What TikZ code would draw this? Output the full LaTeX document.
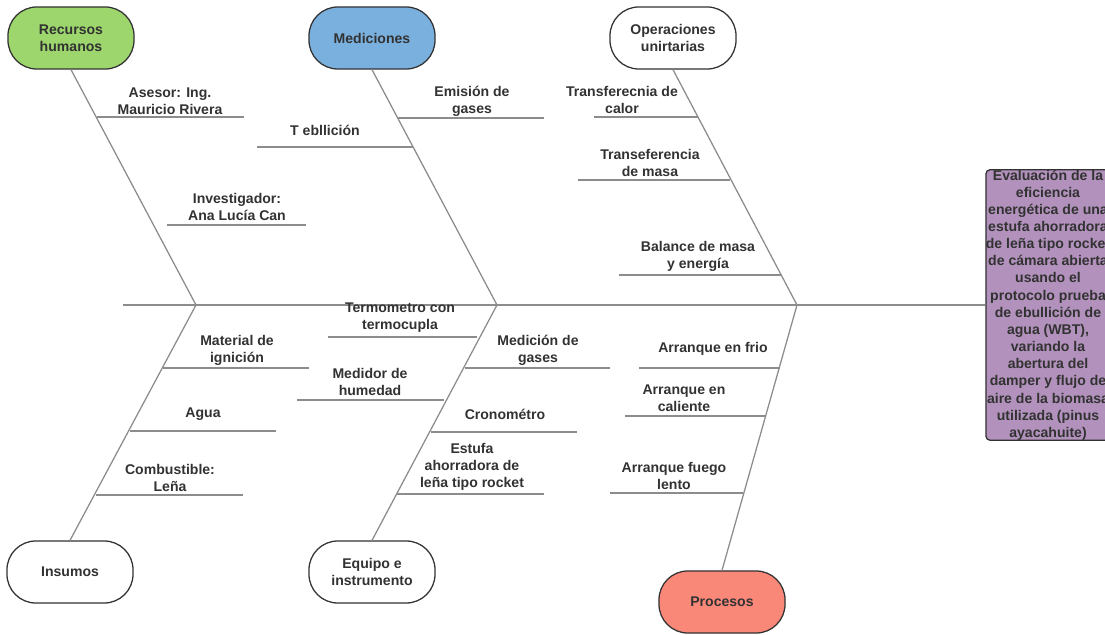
\documentclass[tikz,border=0pt]{standalone}
\usepackage{fontspec}
\setmainfont{Liberation Sans}

\definecolor{rhgreen}{RGB}{156,214,108}
\definecolor{medblue}{RGB}{122,176,222}
\definecolor{procred}{RGB}{249,136,121}
\definecolor{efpurple}{RGB}{178,146,188}
\definecolor{bonegray}{RGB}{140,140,140}
\definecolor{txtgray}{RGB}{50,50,50}

\tikzset{
    cause/.style={draw=txtgray, line width=0.9pt, rounded corners=0.72cm,
        minimum width=3.15cm, minimum height=1.55cm, align=center,
        font=\fontsize{10}{12}\selectfont\bfseries, text=txtgray},
    bone/.style={draw=bonegray, line width=0.9pt},
    lbl/.style={align=center, font=\fontsize{10}{12}\selectfont\bfseries,
        text=txtgray, inner sep=0pt}
}

\begin{document}
\begin{tikzpicture}[x=0.025cm, y=-0.025cm]
    \useasboundingbox (0,0) rectangle (1105,635);

    % categories
    \node[cause, fill=rhgreen] (rh) at (71,38) {Recursos\\humanos};
    \node[cause, fill=medblue] (med) at (372,38) {Mediciones};
    \node[cause, fill=white] (ope) at (673,38) {Operaciones\\unirtarias};
    \node[cause, fill=white] (ins) at (70,572) {Insumos};
    \node[cause, fill=white] (equ) at (372,572) {Equipo e\\instrumento};
    \node[cause, fill=procred] (pro) at (722,602) {Procesos};

    % effect
    \node[draw=txtgray, line width=0.9pt, rounded corners=3pt, fill=efpurple,
        minimum width=3.1cm, minimum height=6.7cm, align=center, inner sep=0pt,
        font=\fontsize{10}{12.2}\selectfont\bfseries, text=txtgray] (eff) at (1048,305)
        {Evaluación de la\\eficiencia\\energética de una\\estufa ahorradora\\de leña tipo rocket\\de cámara abierta\\usando el\\protocolo prueba\\de ebullición de\\agua (WBT),\\variando la\\abertura del\\damper y flujo de\\aire de la biomasa\\utilizada (pinus\\ayacahuite)};

    % spine
    \coordinate (tail) at (123,305);
    \coordinate (j1) at (196,305);
    \coordinate (j2) at (497,305);
    \coordinate (j3) at (797,305);
    \draw[bone] (tail) -- (eff.west);

    % bones
    \draw[bone] (rh.south) -- (j1) -- (ins.north);
    \draw[bone] (med.south) -- (j2) -- (equ.north);
    \draw[bone] (ope.south) -- (j3) -- (pro.north);

    % Recursos humanos
    \node[lbl] (asesor) at (170,101) {Asesor: Ing.\\Mauricio Rivera};
    \draw[bone] (97,117) -- (244,117);
    \node[lbl] (invest) at (237,207) {Investigador:\\Ana Lucía Can};
    \draw[bone] (167,225) -- (306,225);

    % Mediciones
    \node[lbl] (emision) at (472,101) {Emisión de\\gases};
    \draw[bone] (398,118) -- (544,118);
    \node[lbl] (tebul) at (325,130) {T ebllición};
    \draw[bone] (257,147) -- (413,147);

    % Operaciones unirtarias
    \node[lbl] (calor) at (622,100) {Transferecnia de\\calor};
    \draw[bone] (594,117) -- (698,117);
    \node[lbl] (masa) at (650,163) {Transeferencia\\de masa};
    \draw[bone] (578,180) -- (730,180);
    \node[lbl] (balance) at (698,256) {Balance de masa\\y energía};
    \draw[bone] (619,275) -- (781,275);

    % Insumos
    \node[lbl] (ignic) at (237,350) {Material de\\ignición};
    \draw[bone] (163,368) -- (309,368);
    \node[lbl] (agua) at (203,414) {Agua};
    \draw[bone] (130,431) -- (276,431);
    \node[lbl] (combus) at (170,478) {Combustible:\\Leña};
    \draw[bone] (96,495) -- (243,495);

    % Equipo e instrumento
    \node[lbl] (termo) at (400,318) {Termometro con\\termocupla};
    \draw[bone] (328,337) -- (477,337);
    \node[lbl] (medgas) at (538,350) {Medición de\\gases};
    \draw[bone] (465,368) -- (610,368);
    \node[lbl] (humed) at (370,382) {Medidor de\\humedad};
    \draw[bone] (297,400) -- (444,400);
    \node[lbl] (crono) at (505,414) {Cronométro};
    \draw[bone] (431,432) -- (577,432);
    \node[lbl] (estufa) at (472,467) {Estufa\\ahorradora de\\leña tipo rocket};
    \draw[bone] (397,494) -- (544,494);

    % Procesos
    \node[lbl] (frio) at (713,349) {Arranque en frio};
    \draw[bone] (639,368) -- (780,368);
    \node[lbl] (calien) at (684,398) {Arranque en\\caliente};
    \draw[bone] (625,416) -- (766,416);
    \node[lbl] (lento) at (674,476) {Arranque fuego\\lento};
    \draw[bone] (610,493) -- (743,493);
\end{tikzpicture}
\end{document}
